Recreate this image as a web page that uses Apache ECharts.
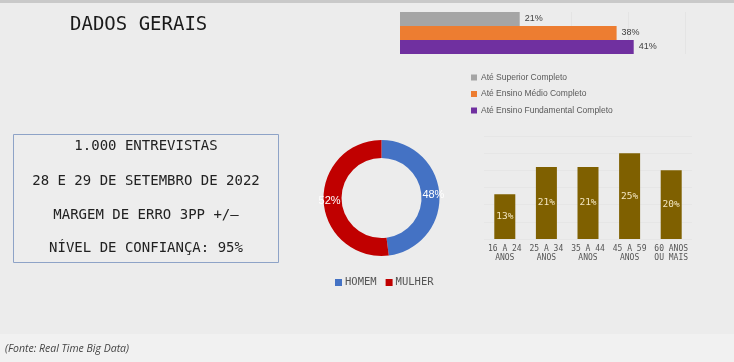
<!DOCTYPE html>
<html>
<head>
<meta charset="utf-8">
<script src="https://cdn.jsdelivr.net/npm/echarts@6/dist/echarts.min.js"></script>
<style>
html,body{margin:0;padding:0;background:#ececec;}
#chart{width:734px;height:362px;}
</style>
</head>
<body>
<div id="chart"></div>
<script>
const titleText = 'DADOS GERAIS';
const infoLines = ['1.000 ENTREVISTAS', '28 E 29 DE SETEMBRO DE 2022', 'MARGEM DE ERRO 3PP +/–', 'NÍVEL DE CONFIANÇA: 95%'];
const eduNames = ['Até Superior Completo', 'Até Ensino Médio Completo', 'Até Ensino Fundamental Completo'];
const eduValues = [21, 38, 41];
const genderNames = ['HOMEM', 'MULHER'];
const genderValues = [48, 52];
const ageCategories = ['16 A 24\nANOS', '25 A 34\nANOS', '35 A 44\nANOS', '45 A 59\nANOS', '60 ANOS\nOU MAIS'];
const ageValues = [13, 21, 21, 25, 20];
const sourceText = '(Fonte: Real Time Big Data)';

const eduColors = ['#a5a5a5', '#ed7d31', '#7030a0'];
const genderColors = ['#4472c4', '#c00000'];
const mono = 'DejaVu Sans Mono';
const sans = 'Liberation Sans';

const chart = echarts.init(document.getElementById('chart'), null, {renderer: 'canvas'});

const infoY = [146, 181, 215, 248];

const option = {
  animation: false,
  backgroundColor: '#ececec',
  graphic: [
    {type: 'rect', shape: {x: 0, y: 0, width: 734, height: 3}, style: {fill: '#c9c9c9'}, silent: true, z: -10},
    {type: 'rect', shape: {x: 0, y: 334, width: 734, height: 28}, style: {fill: '#f1f1f1'}, silent: true, z: -10},
    {type: 'text', x: 70, y: 25, style: {text: titleText, font: '19px "' + mono + '"', fill: '#1a1a1a', textVerticalAlign: 'middle'}},
    {type: 'rect', shape: {x: 13.5, y: 134.5, width: 265, height: 128}, style: {fill: 'rgba(255,255,255,0.08)', stroke: '#8ea3c7', lineWidth: 1}},
  ].concat(infoLines.map((t, i) => ({
    type: 'text', x: 146, y: infoY[i],
    style: {text: t, font: '14px "' + mono + '"', fill: '#222', textAlign: 'center', textVerticalAlign: 'middle'}
  }))).concat([
    {type: 'text', x: 5, y: 349, style: {text: sourceText, font: 'italic 10.5px "Open Sans"', fill: '#444', textVerticalAlign: 'middle'}}
  ]),
  legend: [
    {
      data: eduNames,
      orient: 'vertical',
      left: 471, top: 73, padding: 0,
      itemWidth: 6, itemHeight: 6, itemGap: 7.5,
      icon: 'rect',
      textStyle: {fontFamily: sans, fontSize: 8.5, color: '#595959', padding: [0, 0, 0, -1]},
      selectedMode: false
    },
    {
      data: genderNames,
      orient: 'horizontal',
      left: 335, top: 277, padding: 0,
      itemWidth: 7, itemHeight: 7, itemGap: 9,
      icon: 'rect',
      textStyle: {fontFamily: mono, fontSize: 10.5, color: '#555', padding: [0, 0, 0, -2]},
      selectedMode: false
    }
  ],
  grid: [
    {left: 400, top: 12, width: 285, height: 42},
    {left: 484, top: 136, width: 208, height: 103}
  ],
  xAxis: [
    {gridIndex: 0, type: 'value', min: 0, max: 50, interval: 10,
      axisLine: {show: false}, axisTick: {show: false}, axisLabel: {show: false},
      splitLine: {show: true, lineStyle: {color: '#e4e4e4', width: 1}}},
    {gridIndex: 1, type: 'category', data: ageCategories,
      axisLine: {show: false}, axisTick: {show: false},
      axisLabel: {fontFamily: mono, fontSize: 8, color: '#555', lineHeight: 9, margin: 5, interval: 0}}
  ],
  yAxis: [
    {gridIndex: 0, type: 'category', inverse: true, data: eduNames, show: false},
    {gridIndex: 1, type: 'value', min: 0, max: 30, interval: 5,
      axisLine: {show: false}, axisTick: {show: false}, axisLabel: {show: false},
      splitLine: {show: true, lineStyle: {color: '#e6e6e6', width: 1}}}
  ],
  series: eduNames.map((n, i) => ({
    type: 'bar', name: n, stack: 'edu', xAxisIndex: 0, yAxisIndex: 0,
    barWidth: '100%',
    itemStyle: {color: eduColors[i]},
    data: eduValues.map((v, j) => (j === i ? v : '-')),
    label: {show: true, position: 'right', formatter: '{c}%', fontFamily: sans, fontSize: 9, color: '#404040', distance: 5}
  })).concat([
    {
      type: 'pie', name: 'Sexo',
      center: [381.5, 198], radius: [40, 58],
      startAngle: 90, clockwise: true,
      data: genderNames.map((n, i) => ({name: n, value: genderValues[i], itemStyle: {color: genderColors[i]}})),
      label: {show: true, position: 'inside', formatter: '{c}%', color: '#fff', fontFamily: sans, fontSize: 11},
      labelLine: {show: false},
      emphasis: {disabled: true}
    },
    {
      type: 'bar', name: 'Idade', xAxisIndex: 1, yAxisIndex: 1,
      barWidth: 21,
      itemStyle: {color: '#7f6000'},
      data: ageValues,
      label: {show: true, position: 'inside', formatter: '{c}%', color: '#f3e6c0', fontFamily: mono, fontSize: 9.5}
    }
  ])
};
chart.setOption(option);
</script>
</body>
</html>
